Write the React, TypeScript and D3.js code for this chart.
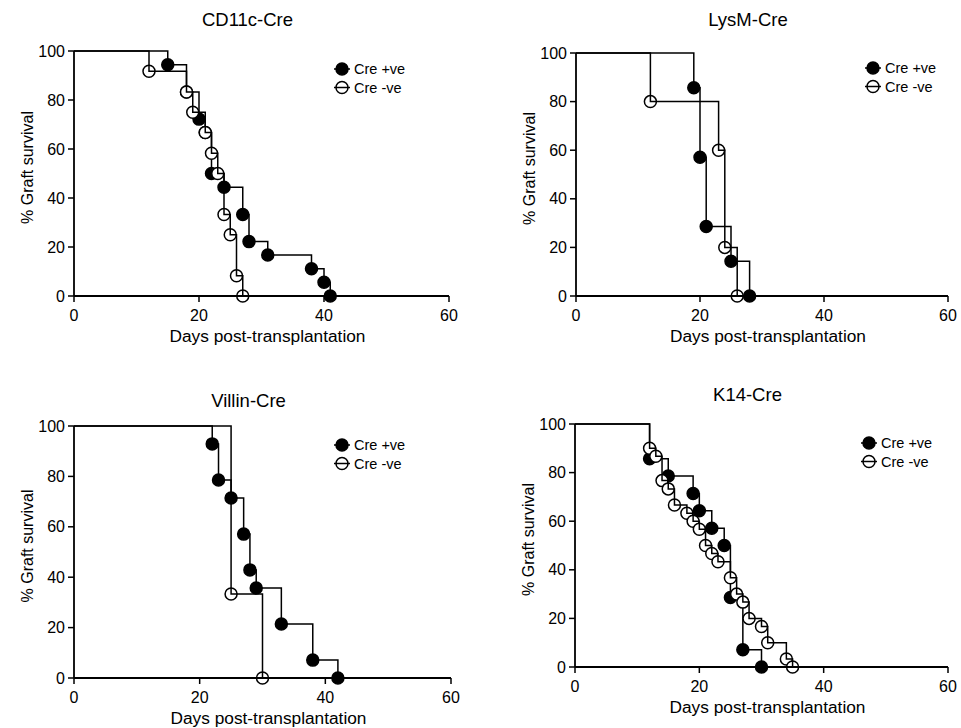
import React from "react"
import * as d3 from "d3"

// Kaplan-Meier data: day of event and survival (%) after it
const cd11cPosDays = [15, 18, 20, 21, 22, 24, 27, 28, 31, 38, 40, 41]
const cd11cPosSurv = [94.4, 83.3, 72.2, 66.7, 50, 44.4, 33.3, 22.2, 16.7, 11.1, 5.6, 0]
const cd11cNegDays = [12, 18, 19, 21, 22, 23, 24, 25, 26, 27]
const cd11cNegSurv = [91.7, 83.3, 75, 66.7, 58.3, 50, 33.3, 25, 8.3, 0]

const lysmPosDays = [19, 20, 21, 25, 28]
const lysmPosSurv = [85.7, 57.1, 28.6, 14.3, 0]
const lysmNegDays = [12, 23, 24, 26]
const lysmNegSurv = [80, 60, 20, 0]

const villinPosDays = [22, 23, 25, 27, 28, 29, 33, 38, 42]
const villinPosSurv = [92.9, 78.6, 71.4, 57.1, 42.9, 35.7, 21.4, 7.1, 0]
const villinNegDays = [25, 30]
const villinNegSurv = [33.3, 0]

const k14PosDays = [12, 15, 19, 20, 22, 24, 25, 27, 30]
const k14PosSurv = [85.7, 78.6, 71.4, 64.3, 57.1, 50, 28.6, 7.1, 0]
const k14NegDays = [12, 13, 14, 15, 16, 18, 19, 20, 21, 22, 23, 25, 26, 27, 28, 30, 31, 34, 35]
const k14NegSurv = [90, 86.7, 76.7, 73.3, 66.7, 63.3, 60, 56.7, 50, 46.7, 43.3, 36.7, 30, 26.7, 20, 16.7, 10, 3.3, 0]

const titles = ["CD11c-Cre", "LysM-Cre", "Villin-Cre", "K14-Cre"]
const seriesNames = ["Cre +ve", "Cre -ve"]
const xTicks = [0, 20, 40, 60]
const yTicks = [0, 20, 40, 60, 80, 100]

const W = 961
const H = 728
const FONT = "'Liberation Sans', Arial, Helvetica, sans-serif"

// plot boxes in pixels
const boxes = [
	{ x0: 74, x1: 449, y0: 51, y1: 296, legX: 342, legY: 69, titleY: 26 },
	{ x0: 576, x1: 948, y0: 53, y1: 296, legX: 873, legY: 68, titleY: 26 },
	{ x0: 74, x1: 451, y0: 426, y1: 678, legX: 342, legY: 445, titleY: 407 },
	{ x0: 575, x1: 948, y0: 424, y1: 667, legX: 869, legY: 443, titleY: 401 }
]

const panelData = [
	[[cd11cPosDays, cd11cPosSurv], [cd11cNegDays, cd11cNegSurv]],
	[[lysmPosDays, lysmPosSurv], [lysmNegDays, lysmNegSurv]],
	[[villinPosDays, villinPosSurv], [villinNegDays, villinNegSurv]],
	[[k14PosDays, k14PosSurv], [k14NegDays, k14NegSurv]]
]

function Panel({ idx }: { idx: number }) {
	const b = boxes[idx]
	const x = d3.scaleLinear().domain([0, 60]).range([b.x0, b.x1])
	const y = d3.scaleLinear().domain([0, 100]).range([b.y1, b.y0])
	const line = d3
		.line<[number, number]>()
		.x(d => x(d[0]))
		.y(d => y(d[1]))
		.curve(d3.curveStepAfter)

	const series = panelData[idx].map(([days, surv]) => {
		const pts: [number, number][] = [[0, 100]]
		days.forEach((t, i) => pts.push([t, surv[i]]))
		return pts
	})

	const r = 6
	return (
		<g>
			<text x={(b.x0 + b.x1) / 2 - 14} y={b.titleY} textAnchor="middle" fontSize={18.5} fontFamily={FONT}>
				{titles[idx]}
			</text>
			{/* curves */}
			{series.map((pts, si) => (
				<g key={si}>
					{pts.slice(1).map((p, i) => (
						<circle
							key={i}
							cx={x(p[0])}
							cy={y(p[1])}
							r={r}
							fill={si === 0 ? "black" : "white"}
							stroke="black"
							strokeWidth={1.5}
						/>
					))}
					<path d={line(pts) || ""} fill="none" stroke="black" strokeWidth={1.5} />
				</g>
			))}
			{/* axes */}
			<line x1={b.x0} x2={b.x1} y1={b.y1} y2={b.y1} stroke="black" strokeWidth={1.8} />
			<line x1={b.x0} x2={b.x0} y1={b.y0} y2={b.y1} stroke="black" strokeWidth={1.8} />
			{xTicks.map(t => (
				<g key={"x" + t}>
					<line x1={x(t)} x2={x(t)} y1={b.y1} y2={b.y1 + 6} stroke="black" strokeWidth={1.5} />
					<text x={x(t)} y={b.y1 + 25} textAnchor="middle" fontSize={16} fontFamily={FONT}>
						{t}
					</text>
				</g>
			))}
			{yTicks.map(t => (
				<g key={"y" + t}>
					<line x1={b.x0 - 6} x2={b.x0} y1={y(t)} y2={y(t)} stroke="black" strokeWidth={1.5} />
					<text x={b.x0 - 9} y={y(t) + 5.5} textAnchor="end" fontSize={16} fontFamily={FONT}>
						{t}
					</text>
				</g>
			))}
			<text x={(b.x0 + b.x1) / 2 + 6} y={b.y1 + 46} textAnchor="middle" fontSize={17.3} fontFamily={FONT}>
				Days post-transplantation
			</text>
			<text
				transform={`translate(${b.x0 - 41},${(b.y0 + b.y1) / 2 - 6}) rotate(-90)`}
				textAnchor="middle"
				fontSize={16}
				fontFamily={FONT}
			>
				% Graft survival
			</text>
			{/* legend */}
			{seriesNames.map((name, si) => {
				const ly = b.legY + si * 18.5
				return (
					<g key={name}>
						<line x1={b.legX - 8} x2={b.legX + 8} y1={ly} y2={ly} stroke="black" strokeWidth={1.5} />
						<circle cx={b.legX} cy={ly} r={r} fill={si === 0 ? "black" : "none"} stroke="black" strokeWidth={1.5} />
						<text x={b.legX + 12} y={ly + 5} fontSize={14.5} fontFamily={FONT}>
							{name}
						</text>
					</g>
				)
			})}
		</g>
	)
}

export default function App() {
	return (
		<svg width={W} height={H} style={{ position: "absolute", left: 0, top: 0, background: "white" }}>
			{titles.map((t, i) => (
				<Panel key={t} idx={i} />
			))}
		</svg>
	)
}
